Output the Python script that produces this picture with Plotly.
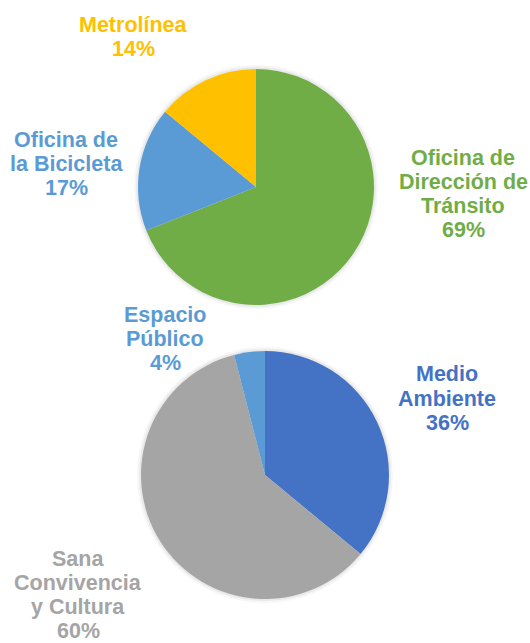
import plotly.graph_objects as go

W, H = 530, 643

# Top pie data
top_labels = ["Oficina de Dirección de Tránsito", "Oficina de la Bicicleta", "Metrolínea"]
top_lines = [["Oficina de", "Dirección de", "Tránsito"], ["Oficina de", "la Bicicleta"], ["Metrolínea"]]
top_values = [69, 17, 14]
top_colors = ["#70AD47", "#5B9BD5", "#FFC000"]

# Bottom pie data
bot_labels = ["Medio Ambiente", "Sana Convivencia y Cultura", "Espacio Público"]
bot_lines = [["Medio", "Ambiente"], ["Sana", "Convivencia", "y Cultura"], ["Espacio", "Público"]]
bot_values = [36, 60, 4]
bot_colors = ["#4472C4", "#A5A5A5", "#5B9BD5"]

# Layout (pixels): pie centers/radii, label centre x and first-line y
top_center, top_r = (256, 187), 118
bot_center, bot_r = (265, 475), 124
top_label_pos = [(463, 158), (66, 140), (133, 25)]
bot_label_pos = [(447, 374.5), (78, 559), (165, 315)]
LINE_STEP = 24
FONT_SIZE = 21.5


def px_x(x):
    return x / W


def px_y(y):
    return 1 - y / H


def domain(center, r):
    cx, cy = center
    return dict(x=[px_x(cx - r), px_x(cx + r)], y=[px_y(cy + r), px_y(cy - r)])


fig = go.Figure()

# soft shadow halo behind each pie
for center, r in [(top_center, top_r), (bot_center, bot_r)]:
    for extra, alpha in [(4, 0.035), (2, 0.05)]:
        fig.add_trace(go.Pie(
            values=[1], labels=["shadow"], sort=False,
            marker=dict(colors=[f"rgba(0,0,0,{alpha})"], line=dict(width=0)),
            textinfo="none", hoverinfo="skip", showlegend=False,
            domain=domain(center, r + extra),
        ))

for labels, values, colors, center, r in [
    (top_labels, top_values, top_colors, top_center, top_r),
    (bot_labels, bot_values, bot_colors, bot_center, bot_r),
]:
    fig.add_trace(go.Pie(
        labels=labels, values=values, sort=False, direction="clockwise", rotation=0,
        marker=dict(colors=colors, line=dict(width=0)),
        textinfo="none", hoverinfo="label+percent", showlegend=False,
        domain=domain(center, r),
    ))

annotations = []
for lines_all, values, colors, positions in [
    (top_lines, top_values, top_colors, top_label_pos),
    (bot_lines, bot_values, bot_colors, bot_label_pos),
]:
    total = sum(values)
    for lines, v, c, (lx, ly) in zip(lines_all, values, colors, positions):
        full = lines + [f"{round(100 * v / total)}%"]
        for i, t in enumerate(full):
            annotations.append(dict(
                x=px_x(lx), y=px_y(ly + i * LINE_STEP), xref="paper", yref="paper",
                text=f"<b>{t}</b>", showarrow=False,
                xanchor="center", yanchor="middle", align="center",
                font=dict(family="Liberation Sans, Arial, sans-serif", size=FONT_SIZE, color=c),
            ))

fig.update_layout(
    width=W, height=H, margin=dict(l=0, r=0, t=0, b=0),
    paper_bgcolor="white", plot_bgcolor="white",
    annotations=annotations,
)

fig.write_html(
    "out.html",
    config={"displayModeBar": False},
    post_script="document.body.style.margin='0';document.body.style.overflow='hidden';",
)
